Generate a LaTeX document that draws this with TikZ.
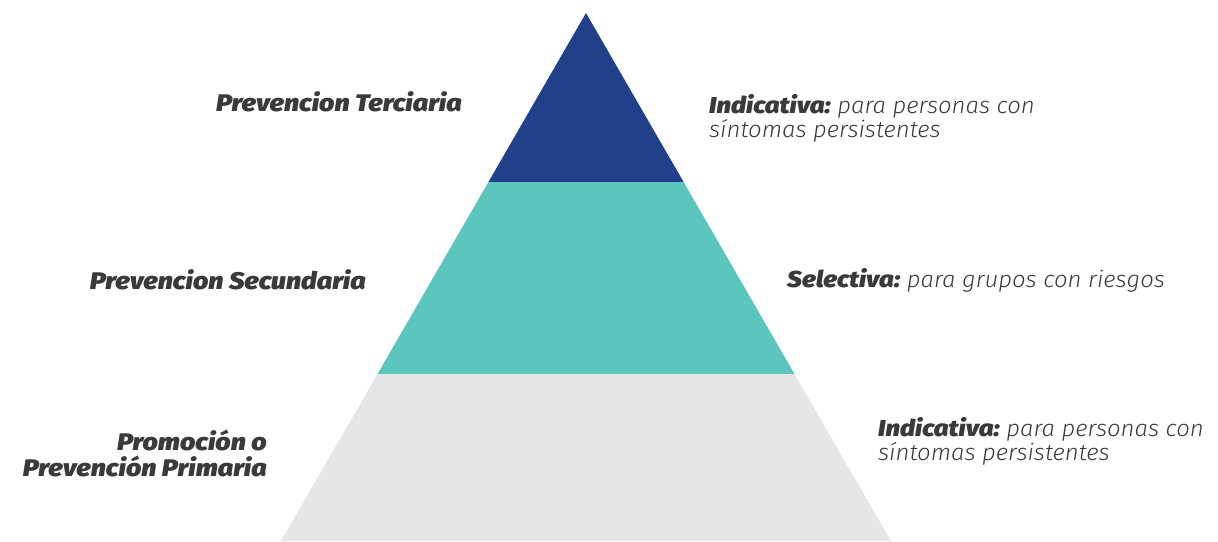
\documentclass[tikz,border=0pt]{standalone}
\usepackage{fontspec}
\setmainfont{Fira Sans}[ItalicFont={Fira Sans Light Italic},ItalicFeatures={FakeStretch=1.04},
  BoldItalicFont={Fira Sans Black Italic},BoldItalicFeatures={FakeStretch=1.12}]
\usepackage{xcolor}
\usetikzlibrary{positioning}
\definecolor{nivelAlto}{HTML}{22408A}
\definecolor{nivelMedio}{HTML}{5BC5BE}
\definecolor{nivelBase}{HTML}{E5E6E8}
\definecolor{textoGris}{HTML}{3A3A3A}
\tikzset{
etiqueta/.style={font=\fontsize{24}{26}\selectfont\bfseries\itshape,text=textoGris,inner sep=0pt,align=right},
descripcion/.style={font=\fontsize{23}{24}\selectfont\itshape,text=textoGris,inner sep=0pt,align=left},
}
\begin{document}
\begin{tikzpicture}[x=1pt,y=-1pt]
    \useasboundingbox (0,0) rectangle (1218,541);
    % piramide
    \coordinate (cima) at (586,13);
    \coordinate (a1) at (488.4,182); \coordinate (b1) at (683.6,182);
    \coordinate (a2) at (377.5,374); \coordinate (b2) at (794.5,374);
    \coordinate (a3) at (281,541);   \coordinate (b3) at (891,541);
    \fill[nivelAlto] (cima) -- (b1) -- (a1) -- cycle;
    \fill[nivelMedio] (a1) -- (b1) -- (b2) -- (a2) -- cycle;
    \fill[nivelBase] (a2) -- (b2) -- (b3) -- (a3) -- cycle;
    % etiquetas izquierda
    \node[etiqueta,anchor=east] (terciaria) at (462,102) {Prevencion Terciaria};
    \node[etiqueta,anchor=east] (secundaria) at (366,280) {Prevencion Secundaria};
    \node[etiqueta,anchor=east] (primaria) at (267,453) {Promoción o\\Prevención Primaria};
    % descripciones derecha
    \node[descripcion,anchor=west] (indicativaA) at (709,118) {\textbf{Indicativa:}\hspace{-2pt} para personas con\\síntomas persistentes};
    \node[descripcion,anchor=west] (selectiva) at (787,280) {\textbf{Selectiva:}\hspace{-2pt} para grupos con riesgos};
    \node[descripcion,anchor=west] (indicativaB) at (878,441) {\textbf{Indicativa:}\hspace{-2pt} para personas con\\síntomas persistentes};
\end{tikzpicture}
\end{document}
